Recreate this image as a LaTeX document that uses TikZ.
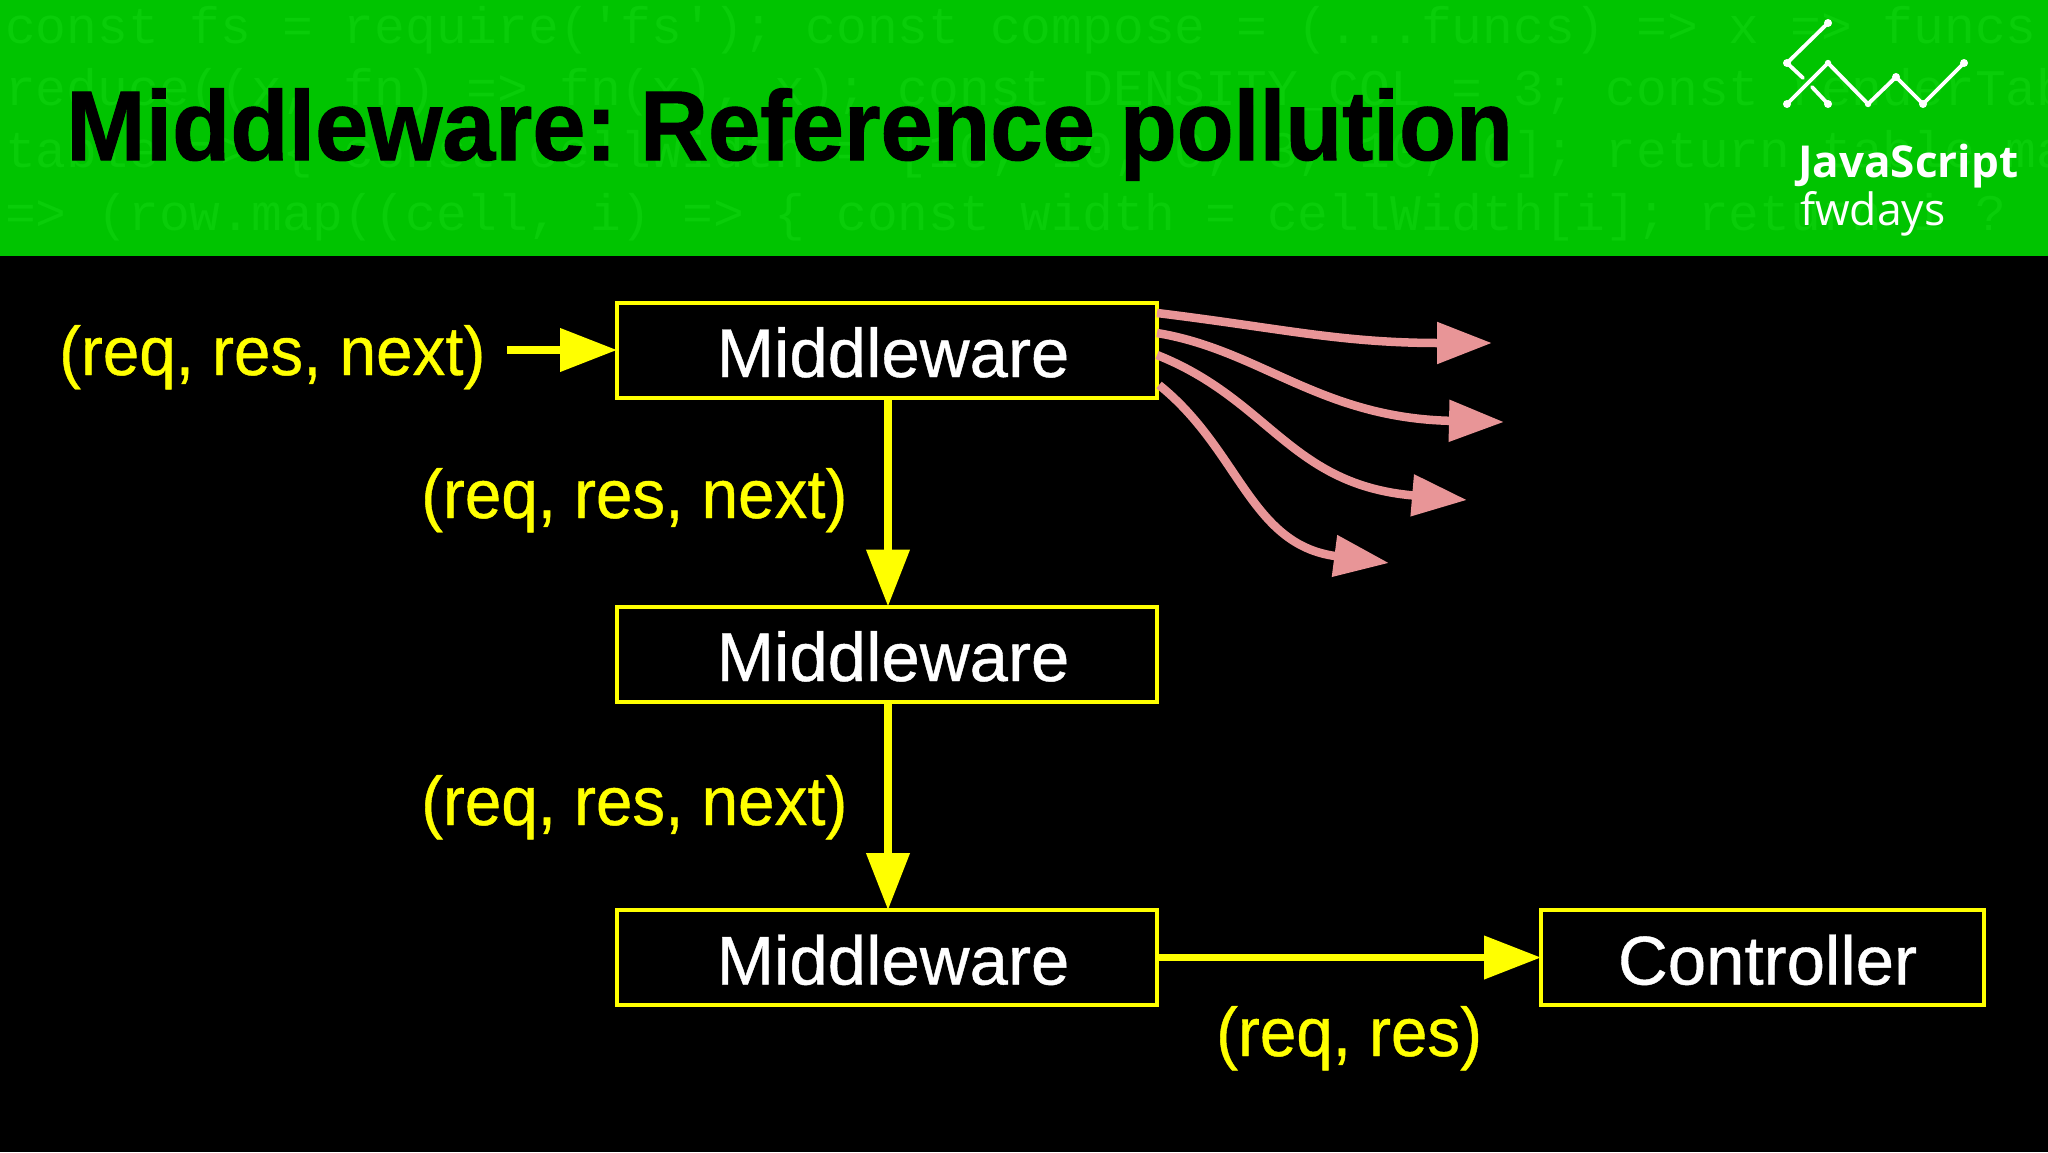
\documentclass[tikz,border=0pt]{standalone}
\usepackage{fontspec}
\setmainfont{Liberation Sans}
\newfontfamily\bodyfont[RawFeature={embolden=0.6}]{Liberation Sans}
\newfontfamily\titlefont[BoldFeatures={RawFeature={embolden=1}}]{Liberation Sans}
\newfontfamily\codefont{Liberation Mono}
\newfontfamily\logofont{Open Sans}
\usetikzlibrary{arrows.meta}
\definecolor{hdrgreen}{RGB}{0,196,0}
\definecolor{codegreen}{RGB}{9,205,9}
\definecolor{boxyellow}{RGB}{255,255,0}
\definecolor{pinkarrow}{RGB}{232,149,151}
\newcommand{\boxtext}[2]{\raisebox{-27pt}[0pt][0pt]{\hspace*{#1}#2}}
\tikzset{
  mwbox/.style={draw=boxyellow,line width=4pt,fill=black,text=white,minimum width=540pt,minimum height=95pt,outer sep=0pt,inner sep=0pt,font=\bodyfont\fontsize{69}{69}\selectfont},
  ctlbox/.style={mwbox,minimum width=443pt},
  arglabel/.style={text=boxyellow,anchor=base west,inner sep=0pt,font=\bodyfont\fontsize{69}{69}\selectfont},
  flow/.style={draw=boxyellow,line width=7.5pt,-{Triangle[length=57pt,width=42pt]}},
  leak/.style={draw=pinkarrow,line width=8.5pt,-{Triangle[length=55pt,width=40pt]}},
  codeline/.style={text=codegreen,anchor=base west,inner sep=0pt,font=\codefont\fontsize{51.3}{51}\selectfont},
  logoline/.style={draw=white,line width=3.8pt,line cap=round},
  logodot/.style={fill=white},
}
\begin{document}
\begin{tikzpicture}[x=1pt,y=-1pt]
\useasboundingbox (0,0) rectangle (2048,1152);
\fill[black] (0,0) rectangle (2048,1152);
\fill[hdrgreen] (0,0) rectangle (2048,256);
\begin{scope}
\clip (0,0) rectangle (2048,256);
\node[codeline] (code1) at (5,43) {const fs = require('fs'); const compose = (...funcs) => x => funcs.};
\node[codeline] (code2) at (5,105) {reduce((x, fn) => fn(x), x); const DENSITY\_COL = 3; const renderTable};
\node[codeline] (code3) at (5,167) {table => \{ const cellWidth = [10, 10, 0, 3, 10, 0]; return table.map};
\node[codeline] (code4) at (5,230) {=> (row.map((cell, i) => \{ const width = cellWidth[i]; return i ? c};
\end{scope}
\node[anchor=base west,inner sep=0pt,font=\titlefont\fontsize{99}{99}\selectfont\bfseries] (title) at (66,160) {\scalebox{0.963}[1]{Middleware:}\hspace{23pt}\scalebox{0.95}[1]{Reference}\hspace{25pt}\scalebox{0.94}[1]{pollution}};
% logo
\draw[logoline] (1828,23) -- (1787,63) -- (1803,78);
\draw[logoline] (1812,87) -- (1828,104);
\draw[logoline] (1787,104) -- (1828,63) -- (1868,104) -- (1896,77) -- (1923,104) -- (1964,63);
\foreach \px/\py in {1828/23,1787/63,1828/104,1787/104,1896/77,1923/104,1964/63}
  \fill[logodot] (\px,\py) circle (4pt);
\foreach \px/\py in {1828/63,1868/104}
  \fill[logodot] (\px,\py) circle (3.2pt);
\node[anchor=base west,inner sep=0pt,text=white,font=\logofont\fontsize{44}{44}\selectfont\bfseries] (logoa) at (1798,177) {JavaScript};
\node[anchor=base west,inner sep=0pt,text=white,font=\logofont\fontsize{44.5}{44}\selectfont] (logob) at (1800,225) {fwdays};
% boxes
\node[mwbox] (box1) at (887,350) {\boxtext{12pt}{Middleware}};
\node[mwbox] (box2) at (887,654) {\boxtext{12pt}{Middleware}};
\node[mwbox] (box3) at (887,957.5) {\boxtext{12pt}{Middleware}};
\node[ctlbox] (ctl) at (1762.5,957.5) {\boxtext{10pt}{Controller}};
% labels
\node[arglabel] (lab1) at (59,375) {\scalebox{0.95}[1]{(req, res, next)}};
\node[arglabel] (lab2) at (421,518) {\scalebox{0.95}[1]{(req, res, next)}};
\node[arglabel] (lab3) at (421,825) {\scalebox{0.95}[1]{(req, res, next)}};
\node[arglabel] (lab4) at (1216,1056) {\scalebox{0.95}[1]{(req, res)}};
\coordinate (start1) at (507,350);
% connectors
\draw[flow] (start1) -- (box1.west);
\draw[flow] ([xshift=1pt]box1.south) -- ([xshift=1pt]box2.north);
\draw[flow] ([xshift=1pt]box2.south) -- ([xshift=1pt]box3.north);
\draw[flow] (box3.east) -- (ctl.west);
\coordinate (tip1) at (1492,343);
\coordinate (tip2) at (1504,422);
\coordinate (tip3) at (1467,500);
\coordinate (tip4) at (1389,563);
\draw[leak] ([yshift=37pt]box1.east) .. controls (1280,328) and (1340,343) .. (tip1);
\draw[leak] ([yshift=17pt]box1.east) .. controls (1260,350) and (1320,418) .. (tip2);
\draw[leak] ([yshift=-5pt]box1.east) .. controls (1270,400) and (1290,485) .. (tip3);
\draw[leak] ([yshift=-35pt,xshift=2pt]box1.east) .. controls (1240,450) and (1250,545) .. (tip4);
\end{tikzpicture}
\end{document}
